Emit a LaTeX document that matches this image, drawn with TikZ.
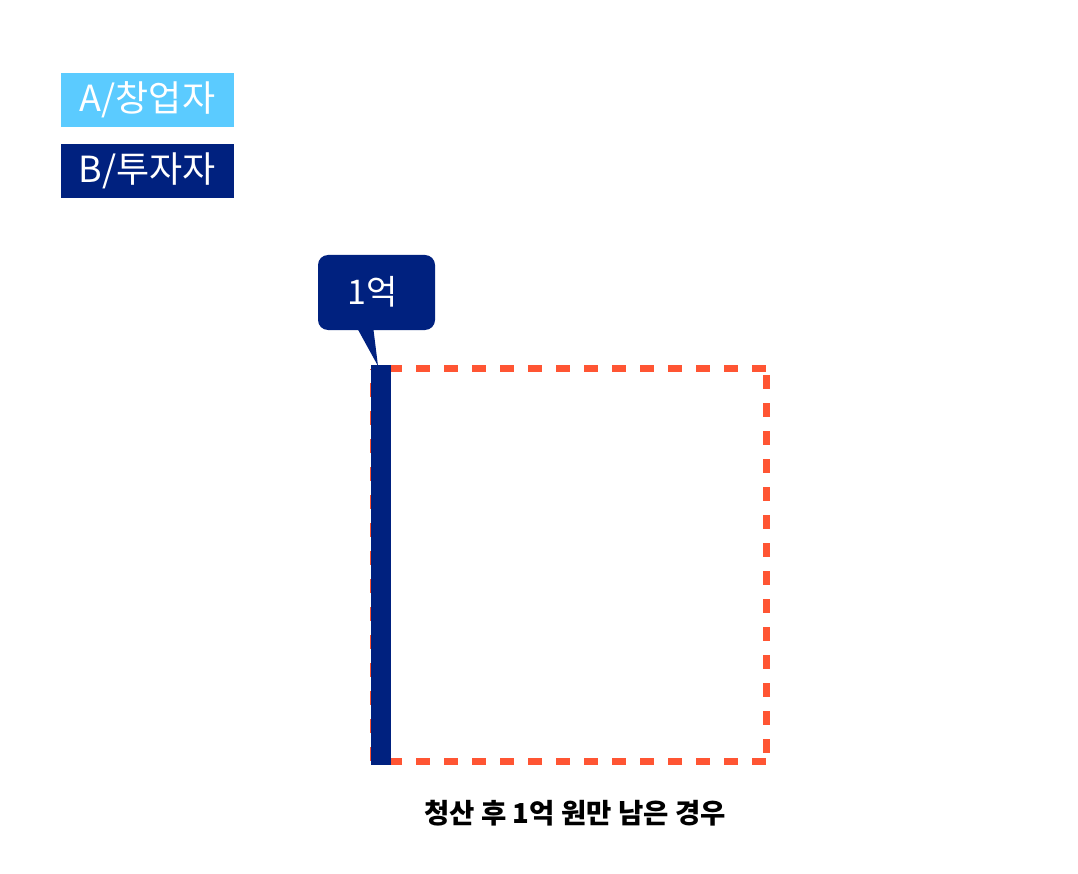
\documentclass[tikz,border=0pt]{standalone}
\usepackage{fontspec}
\setmainfont{Noto Sans CJK KR}
\definecolor{navy}{HTML}{00217F}
\definecolor{skyb}{HTML}{5BCBFF}
\definecolor{orng}{HTML}{FF5533}
\tikzset{
  legendbox/.style={inner sep=0pt, minimum width=173pt, minimum height=54pt, text=white, font=\fontsize{36}{40}\selectfont},
  dashedge/.style={orng, line width=7pt, dash pattern=on 14pt off 14pt},
}
\begin{document}
\begin{tikzpicture}[x=1pt,y=-1pt]
\useasboundingbox (0,0) rectangle (1078,874);
\fill[white] (0,0) rectangle (1078,874);
% legend
\node[legendbox, fill=skyb] (la) at (147.5,100) {A/창업자};
\node[legendbox, fill=navy] (lb) at (147.5,171) {B/투자자};
% dashed square
\coordinate (tl) at (373.5,368.5);
\coordinate (tr) at (766.5,368.5);
\coordinate (br) at (766.5,761.5);
\coordinate (bl) at (373.5,761.5);
\draw[dashedge, dash phase=13.5pt] (tl) -- (tr);
\draw[dashedge, dash phase=21.5pt] (tr) -- (br);
\draw[dashedge, dash phase=13.5pt] (bl) -- (br);
\draw[dashedge, dash phase=13.5pt] (tl) -- (bl);
% blue bar
\fill[navy] (371,365) rectangle (391,765);
% callout
\fill[navy, rounded corners=10pt] (318,255) rectangle (435,330);
\fill[navy] (356,326) -- (373,326) -- (378,366) -- cycle;
\node[text=white, font=\fontsize{34}{38}\selectfont, inner sep=0pt] (callout) at (373,292) {1억};
% caption
\node[font=\bfseries\fontsize{27.5}{32}\selectfont, inner sep=0pt] (cap) at (575,813) {청산 후 1억 원만 남은 경우};
\end{tikzpicture}
\end{document}
